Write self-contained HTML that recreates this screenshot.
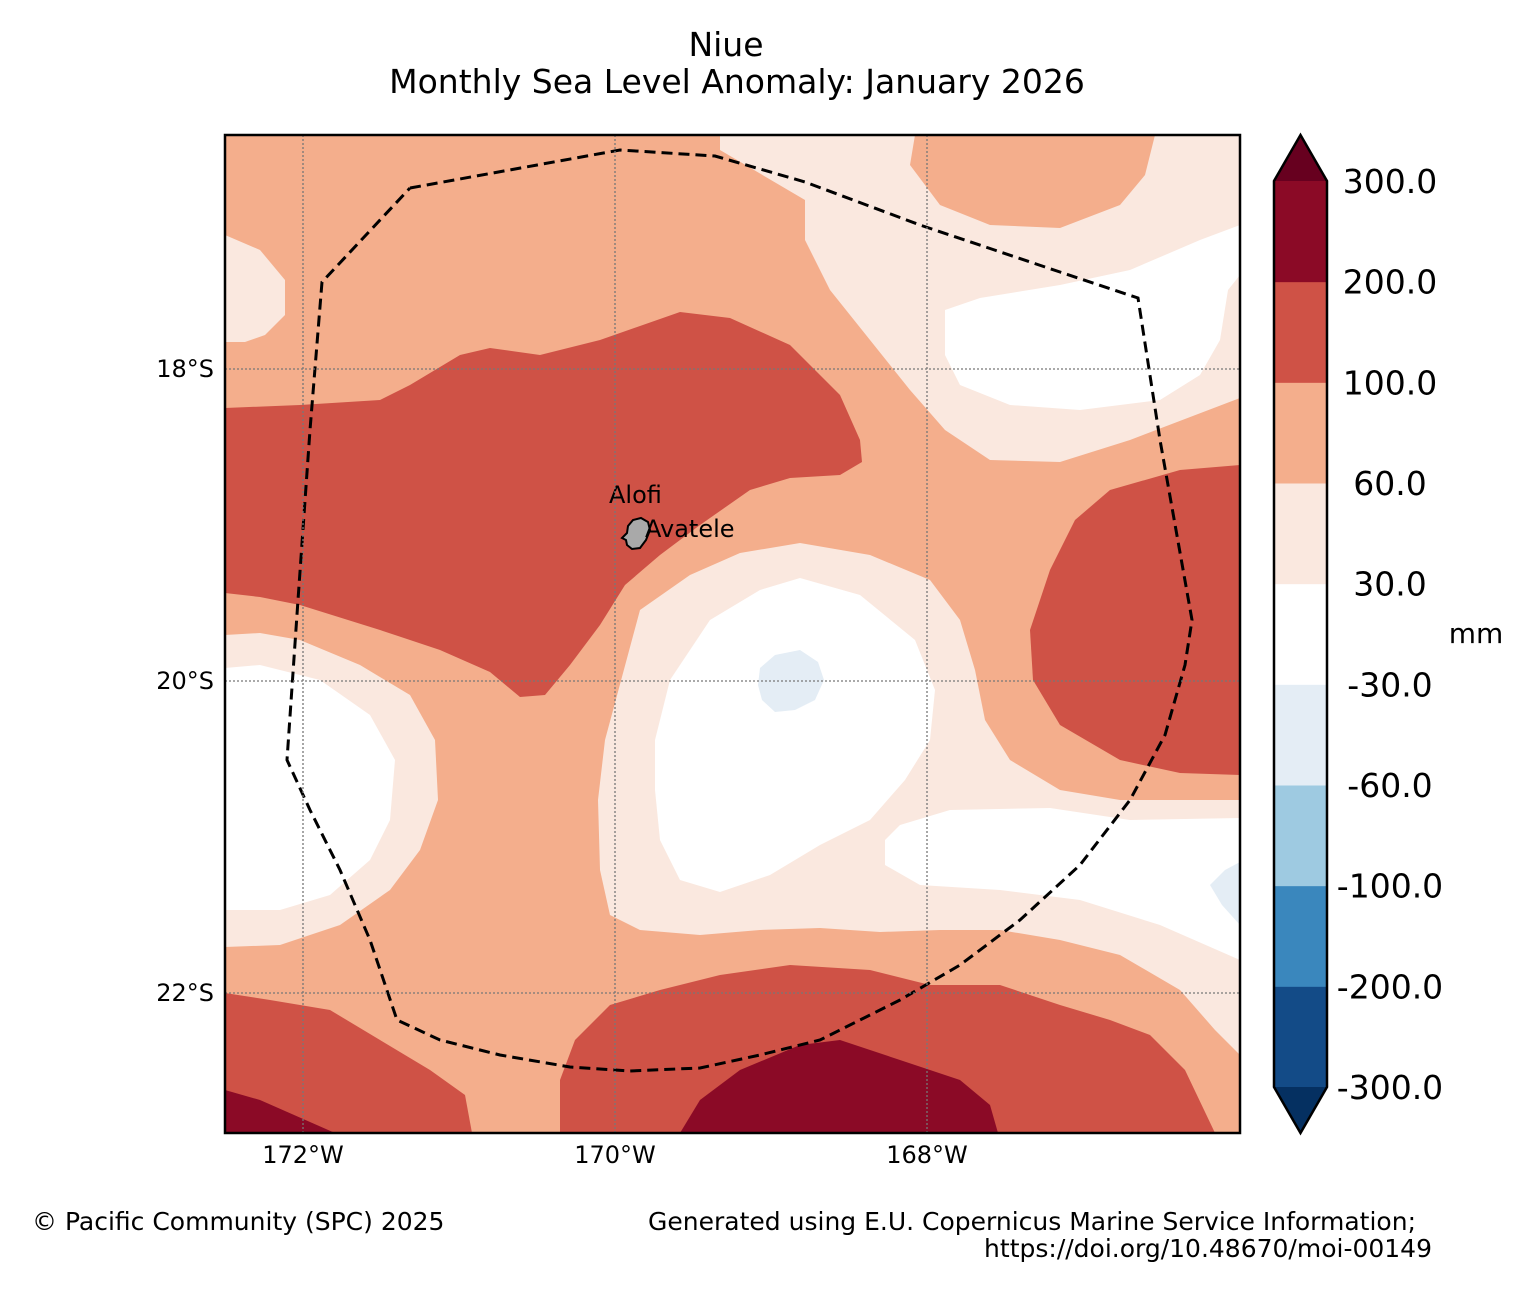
<!DOCTYPE html>
<html><head><meta charset="utf-8"><style>
body{margin:0;background:#fff;}
svg text{font-family:"DejaVu Sans","Liberation Sans",sans-serif;}
</style></head><body>
<svg id="chart" width="1534" height="1292" viewBox="0 0 1534 1292" xmlns="http://www.w3.org/2000/svg">
<defs><clipPath id="mapclip"><rect x="225" y="135" width="1015" height="998"/></clipPath></defs>
<text x="726" y="56" font-size="33" text-anchor="middle">Niue</text>
<text x="737" y="93" font-size="33" text-anchor="middle">Monthly Sea Level Anomaly: January 2026</text>
<g id="map" clip-path="url(#mapclip)"></g>
<g id="grid"></g>
<rect x="225" y="135" width="1015" height="998" fill="none" stroke="#000" stroke-width="2.5"/>
<g id="ticks"></g>
<g id="cbar"></g>
<text x="1476" y="643" font-size="28" text-anchor="middle">mm</text>
<text x="32" y="1230" font-size="25">© Pacific Community (SPC) 2025</text>
<text x="1416" y="1230" font-size="25" text-anchor="end">Generated using E.U. Copernicus Marine Service Information;</text>
<text x="1432" y="1257" font-size="25" text-anchor="end">https://doi.org/10.48670/moi-00149</text>
</svg>
<script>
const cbLevels = ["-300.0","-200.0","-100.0","-60.0","-30.0","30.0","60.0","100.0","200.0","300.0"];
const cbColors = ["#134b87","#3a87bd","#9ecae1","#e4edf5","#ffffff","#fae8df","#f4ae8c","#cf5246","#8b0a26"];
const cbUnder = "#053061", cbOver = "#67001f";
const lonTicks = [-172,-170,-168];
const latTicks = [-18,-20,-22];
const regions = [
 ["#fae8df","720,135 720,150 805,200 805,240 830,290 870,340 910,390 945,430 990,460 1060,462 1130,440 1240,398 1240,135"],
 ["#f4ae8c","915,135 910,165 940,205 990,225 1060,228 1120,205 1145,175 1155,135"],
 ["#ffffff","945,310 980,298 1060,285 1130,270 1200,240 1240,225 1240,275 1228,290 1220,340 1200,375 1160,400 1080,410 1010,405 960,385 945,355"],
 ["#fae8df","225,235 260,250 285,280 285,315 265,335 245,342 225,342"],
 ["#cf5246","225,408 300,405 380,400 410,385 460,355 490,348 540,355 600,340 680,312 730,318 790,345 840,395 860,440 862,462 840,475 790,478 750,490 700,525 660,555 625,585 600,625 570,665 545,695 520,697 490,672 440,650 380,630 300,605 260,597 225,593"],
 ["#cf5246","1240,465 1180,470 1110,490 1075,520 1050,570 1030,630 1033,680 1060,725 1120,760 1180,773 1240,775"],
 ["#fae8df","225,635 260,633 300,640 360,665 410,695 435,740 438,800 420,850 390,890 340,925 280,945 225,947"],
 ["#ffffff","225,668 260,665 320,680 370,715 395,760 390,820 370,860 330,895 280,910 225,910"],
 ["#fae8df","605,740 640,610 690,575 740,553 800,543 870,555 930,580 960,620 975,670 985,720 1010,760 1060,790 1120,800 1240,800 1240,1055 1215,1030 1180,990 1120,955 1060,940 1000,930 940,930 880,932 820,928 760,930 700,935 640,930 610,915 600,870 598,800"],
 ["#ffffff","655,740 670,680 710,620 760,590 800,578 860,595 915,640 935,690 930,740 905,780 870,820 820,845 770,875 720,892 680,880 660,840 655,790"],
 ["#e4edf5","760,668 775,655 800,650 818,662 824,680 815,700 795,710 775,712 762,700 758,685"],
 ["#ffffff","885,840 900,825 950,810 1050,808 1130,820 1240,818 1240,960 1160,925 1080,900 1000,890 920,885 885,865"],
 ["#e4edf5","1240,862 1225,870 1210,885 1222,905 1240,925"],
 ["#cf5246","225,993 270,1000 330,1010 380,1040 430,1070 465,1095 472,1133 225,1133"],
 ["#8b0a26","225,1090 260,1100 335,1133 225,1133"],
 ["#cf5246","560,1133 560,1080 575,1040 610,1005 660,990 720,975 790,965 870,970 930,985 1000,985 1060,1005 1110,1020 1150,1035 1185,1070 1215,1133"],
 ["#8b0a26","680,1133 700,1100 740,1070 800,1045 840,1040 900,1060 960,1080 990,1105 998,1133"]
];
const eez = "410,188 620,150 715,156 805,182 920,225 1060,272 1138,298 1160,440 1192,620 1185,665 1165,735 1130,800 1080,865 1020,920 960,965 900,1000 820,1040 760,1055 700,1068 630,1071 570,1067 500,1055 440,1040 397,1020 370,940 340,870 310,810 287,760 298,600 310,430 322,282 410,188";
const NS="http://www.w3.org/2000/svg";
function mk(t,a,p){const e=document.createElementNS(NS,t);for(const k in a)e.setAttribute(k,a[k]);p.appendChild(e);return e;}
const xLon = lon => 615 + (lon+170)*156;
const yLat = lat => 681 - (lat+20)*156;
const map=document.getElementById('map');
const bg=mk('rect',{x:225,y:135,width:1015,height:998,fill:"#f4ae8c"},map);


regions.forEach((r,i)=>{const p=mk('polygon',{points:r[1],fill:r[0]},map);

});
const ez=mk('polyline',{points:eez,fill:"none",stroke:"#000","stroke-width":3,"stroke-dasharray":"11,6"},map);


const isl=mk('path',{d:"M628,526 L633,520 L641,518 L648,522 L650,530 L646,540 L640,548 L632,549 L627,545 L626,540 L622,538 L627,533 Z",fill:"#a9a9a9",stroke:"#000","stroke-width":2},map);


const t1=mk('text',{x:609,y:503,"font-size":24},map);t1.textContent="Alofi";


const t2=mk('text',{x:645,y:537,"font-size":24},map);t2.textContent="Avatele";


const grid=document.getElementById('grid'), ticks=document.getElementById('ticks');
lonTicks.forEach(l=>{const x=xLon(l);
const g=mk('line',{x1:x,x2:x,y1:135,y2:1133,stroke:"#777","stroke-width":1.3,"stroke-dasharray":"2,2"},grid);


const t=mk('text',{x:x,y:1163,"font-size":24,"text-anchor":"middle"},ticks);t.textContent=Math.abs(l)+"°W";

});
latTicks.forEach(l=>{const y=yLat(l);
const g=mk('line',{x1:225,x2:1240,y1:y,y2:y,stroke:"#777","stroke-width":1.3,"stroke-dasharray":"2,2"},grid);


const t=mk('text',{x:214,y:y+8,"font-size":24,"text-anchor":"end"},ticks);t.textContent=Math.abs(l)+"°S";

});
const cb=document.getElementById('cbar');
const cx0=1274,cx1=1327,cTop=181,cBot=1087,segH=(cBot-cTop)/cbColors.length;
cbColors.forEach((c,i)=>{const r=mk('rect',{x:cx0,y:cBot-(i+1)*segH,width:cx1-cx0,height:segH+0.5,fill:c},cb);

});
const tu=mk('polygon',{points:`${cx0},${cTop} ${cx1},${cTop} ${(cx0+cx1)/2},135`,fill:cbOver},cb);


const td=mk('polygon',{points:`${cx0},${cBot} ${cx1},${cBot} ${(cx0+cx1)/2},1133`,fill:cbUnder},cb);


const ol=mk('polygon',{points:`${(cx0+cx1)/2},135 ${cx1},${cTop} ${cx1},${cBot} ${(cx0+cx1)/2},1133 ${cx0},${cBot} ${cx0},${cTop}`,fill:"none",stroke:"#000","stroke-width":2.5},cb);


cbLevels.forEach((lv,i)=>{const y=cBot-i*segH;
const t=mk('text',{x:1390,y:y+12,"font-size":33,"text-anchor":"middle"},cb);t.textContent=lv;

});
</script>
</body></html>
